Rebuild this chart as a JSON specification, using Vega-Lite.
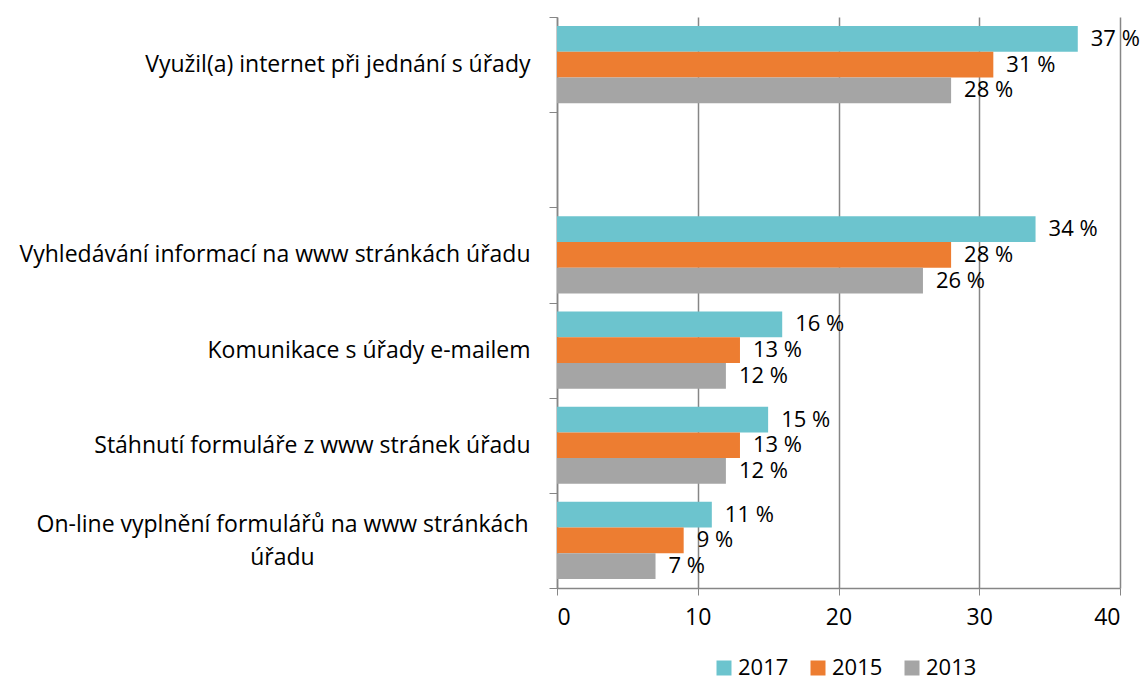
{
  "$schema": "https://vega.github.io/schema/vega-lite/v6.json",
  "width": 563,
  "height": 571,
  "autosize": {"type": "none"},
  "padding": {"left": 557, "top": 17, "right": 23, "bottom": 94},
  "background": "white",
  "config": {
    "view": {"stroke": null},
    "font": "Open Sans",
    "axis": {"labelFont": "Open Sans", "labelColor": "#000000", "labelFontSize": 23},
    "legend": {"labelFont": "Open Sans", "labelColor": "#000000", "labelFontSize": 22}
  },
  "data": {
    "values": [
      {"cat": "Využil(a) internet při jednání s úřady", "year": "2017", "value": 37, "label": "37 %"},
      {"cat": "Využil(a) internet při jednání s úřady", "year": "2015", "value": 31, "label": "31 %"},
      {"cat": "Využil(a) internet při jednání s úřady", "year": "2013", "value": 28, "label": "28 %"},
      {"cat": "Vyhledávání informací na www stránkách úřadu", "year": "2017", "value": 34, "label": "34 %"},
      {"cat": "Vyhledávání informací na www stránkách úřadu", "year": "2015", "value": 28, "label": "28 %"},
      {"cat": "Vyhledávání informací na www stránkách úřadu", "year": "2013", "value": 26, "label": "26 %"},
      {"cat": "Komunikace s úřady e-mailem", "year": "2017", "value": 16, "label": "16 %"},
      {"cat": "Komunikace s úřady e-mailem", "year": "2015", "value": 13, "label": "13 %"},
      {"cat": "Komunikace s úřady e-mailem", "year": "2013", "value": 12, "label": "12 %"},
      {"cat": "Stáhnutí formuláře z www stránek úřadu", "year": "2017", "value": 15, "label": "15 %"},
      {"cat": "Stáhnutí formuláře z www stránek úřadu", "year": "2015", "value": 13, "label": "13 %"},
      {"cat": "Stáhnutí formuláře z www stránek úřadu", "year": "2013", "value": 12, "label": "12 %"},
      {"cat": "On-line vyplnění formulářů na www stránkách úřadu", "year": "2017", "value": 11, "label": "11 %"},
      {"cat": "On-line vyplnění formulářů na www stránkách úřadu", "year": "2015", "value": 9, "label": "9 %"},
      {"cat": "On-line vyplnění formulářů na www stránkách úřadu", "year": "2013", "value": 7, "label": "7 %"}
    ]
  },
  "encoding": {
    "y": {
      "field": "cat",
      "type": "nominal",
      "scale": {
        "domain": [
          "Využil(a) internet při jednání s úřady",
          " ",
          "Vyhledávání informací na www stránkách úřadu",
          "Komunikace s úřady e-mailem",
          "Stáhnutí formuláře z www stránek úřadu",
          "On-line vyplnění formulářů na www stránkách úřadu"
        ],
        "paddingInner": 0,
        "paddingOuter": 0
      },
      "axis": {
        "title": null,
        "tickBand": "extent",
        "tickSize": 8,
        "tickColor": "#868686",
        "domainColor": "#868686",
        "domainWidth": 1.5,
        "labelLimit": 600,
        "labelLineHeight": 33,
        "labelPadding": {
          "condition": {"test": "datum.value == 'On-line vyplnění formulářů na www stránkách úřadu'", "value": 267},
          "value": 19
        },
        "labelAlign": {
          "condition": {"test": "datum.value == 'On-line vyplnění formulářů na www stránkách úřadu'", "value": "center"},
          "value": "right"
        },
        "labelOffset": {
          "condition": {"test": "datum.value == 'On-line vyplnění formulářů na www stránkách úřadu'", "value": -16},
          "value": 0
        },
        "labelExpr": "datum.value == 'On-line vyplnění formulářů na www stránkách úřadu' ? ['On-line vyplnění formulářů na www stránkách', 'úřadu'] : datum.value"
      }
    },
    "yOffset": {
      "field": "year",
      "type": "nominal",
      "sort": ["2017", "2015", "2013"],
      "scale": {"paddingInner": 0, "paddingOuter": 0.35}
    },
    "x": {
      "field": "value",
      "type": "quantitative",
      "scale": {"domain": [0, 40], "nice": false},
      "axis": {
        "title": null,
        "values": [0, 10, 20, 30, 40],
        "grid": true,
        "gridColor": "#868686",
        "gridWidth": 1.5,
        "domainColor": "#868686",
        "domainWidth": 1.5,
        "tickColor": "#868686",
        "tickSize": 7,
        "labelPadding": 11
      }
    }
  },
  "layer": [
    {
      "mark": {"type": "bar"},
      "encoding": {
        "color": {
          "field": "year",
          "type": "nominal",
          "sort": ["2017", "2015", "2013"],
          "scale": {"domain": ["2017", "2015", "2013"], "range": ["#6CC4CE", "#ED7D31", "#A5A5A5"]},
          "legend": {
            "title": null,
            "orient": "none",
            "direction": "horizontal",
            "legendX": 156,
            "legendY": 640,
            "symbolType": "square",
            "symbolSize": 225,
            "symbolStrokeWidth": 0,
            "labelOffset": 3,
            "columnPadding": 18
          }
        }
      }
    },
    {
      "mark": {"type": "text", "align": "left", "baseline": "middle", "dx": 13, "fontSize": 22, "color": "#000000", "font": "Open Sans"},
      "encoding": {"text": {"field": "label"}}
    }
  ]
}
